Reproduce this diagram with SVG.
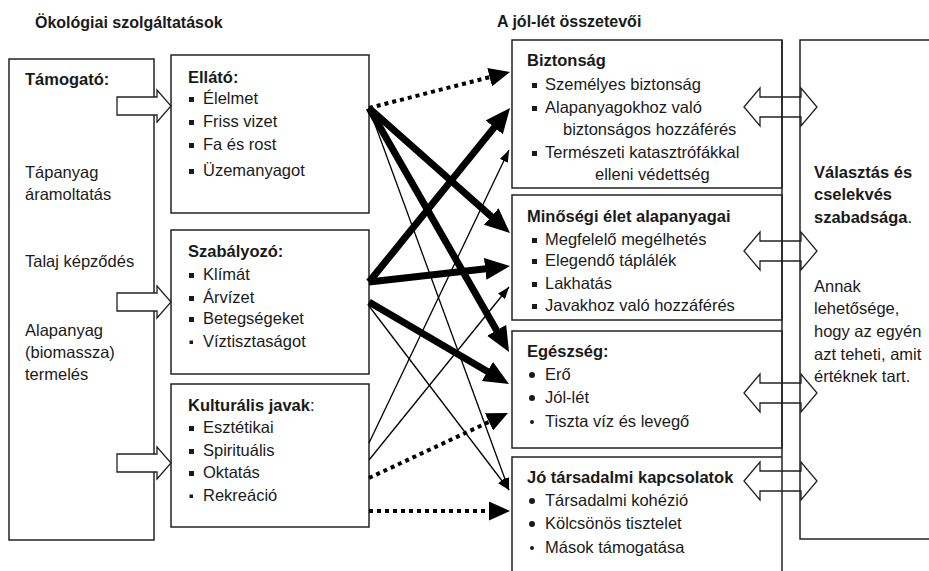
<svg xmlns="http://www.w3.org/2000/svg" width="929" height="571" viewBox="0 0 929 571">
<style>
.t{font-family:"Liberation Sans",Arial,sans-serif;font-size:16.5px;fill:#1a1a1a}
.h{font-family:"Liberation Sans",Arial,sans-serif;font-size:16px;font-weight:bold;fill:#1a1a1a}
.b{font-weight:bold}
.box{fill:none;stroke:#222;stroke-width:1.5}
.bl{fill:#1a1a1a}
.blk{fill:#fff;stroke:#222;stroke-width:1.3}
.dbl{fill:none;stroke:#222;stroke-width:1.3}
.thick{stroke:#000;stroke-width:7;fill:none}
.thin{stroke:#000;stroke-width:1.3;fill:none}
.dot{stroke:#000;stroke-width:4;stroke-dasharray:4 4;fill:none}
</style>
<defs>
<marker id="hT" markerUnits="userSpaceOnUse" viewBox="0 0 25 22" markerWidth="25" markerHeight="22" refX="1" refY="11" orient="auto"><path d="M0,0 L25,11 L0,22 Z" fill="#000"/></marker>
<marker id="hD" markerUnits="userSpaceOnUse" viewBox="0 0 21 19" markerWidth="21" markerHeight="19" refX="1" refY="9.5" orient="auto"><path d="M0,0 L21,9.5 L0,19 Z" fill="#000"/></marker>
<marker id="hS" markerUnits="userSpaceOnUse" viewBox="0 0 12 9" markerWidth="12" markerHeight="9" refX="12" refY="4.5" orient="auto"><path d="M0,0 L12,4.5 L0,9 Z" fill="#000"/></marker>
<clipPath id="clipSec"><rect x="512" y="40" width="270" height="144"/></clipPath>
</defs>

<g id="titles">
<text class="h" x="35" y="28">Ökológiai szolgáltatások</text>
<text class="h" x="497" y="27">A jól-lét összetevői</text>
</g>

<g id="support">
<rect class="box" x="9" y="59" width="145" height="481"/>
<text class="t b" x="25" y="85">Támogató:</text>
<text class="t" x="25" y="178">Tápanyag</text>
<text class="t" x="25" y="200">áramoltatás</text>
<text class="t" x="25" y="267">Talaj képződés</text>
<text class="t" x="25" y="336">Alapanyag</text>
<text class="t" x="25" y="358">(biomassza)</text>
<text class="t" x="25" y="380">termelés</text>
</g>

<g id="provisioning">
<rect class="box" x="171" y="55" width="198" height="158"/>
<text class="t b" x="188" y="83">Ellátó:</text>
<rect class="bl" x="189" y="97" width="5" height="5"/><text class="t" x="203" y="104">Élelmet</text>
<rect class="bl" x="189" y="120" width="5" height="5"/><text class="t" x="203" y="127">Friss vizet</text>
<rect class="bl" x="189" y="143" width="5" height="5"/><text class="t" x="203" y="150">Fa és rost</text>
<rect class="bl" x="189" y="169" width="5" height="5"/><text class="t" x="203" y="176">Üzemanyagot</text>
</g>

<g id="regulating">
<rect class="box" x="171" y="230" width="198" height="144"/>
<text class="t b" x="188" y="257">Szabályozó:</text>
<rect class="bl" x="189" y="273" width="5" height="5"/><text class="t" x="203" y="280">Klímát</text>
<rect class="bl" x="189" y="296" width="5" height="5"/><text class="t" x="203" y="303">Árvízet</text>
<rect class="bl" x="189" y="317" width="5" height="5"/><text class="t" x="203" y="324">Betegségeket</text>
<rect class="bl" x="189.5" y="340.5" width="3.5" height="3.5"/><text class="t" x="203" y="347">Víztisztaságot</text>
</g>

<g id="cultural">
<rect class="box" x="171" y="384" width="198" height="143"/>
<text class="t" x="188" y="411"><tspan class="b">Kulturális javak</tspan>:</text>
<rect class="bl" x="189" y="426" width="5" height="5"/><text class="t" x="203" y="433">Esztétikai</text>
<rect class="bl" x="189" y="449" width="5" height="5"/><text class="t" x="203" y="456">Spirituális</text>
<rect class="bl" x="189" y="471" width="5" height="5"/><text class="t" x="203" y="478">Oktatás</text>
<rect class="bl" x="189.5" y="494.5" width="3.5" height="3.5"/><text class="t" x="203" y="501">Rekreáció</text>
</g>

<g id="security">
<rect class="box" x="512" y="40" width="270" height="148"/>
<text class="t b" x="527" y="66">Biztonság</text>
<rect class="bl" x="532" y="83" width="5" height="5"/><text class="t" x="545" y="90">Személyes biztonság</text>
<rect class="bl" x="532" y="106" width="5" height="5"/><text class="t" x="545" y="113">Alapanyagokhoz való</text>
<text class="t" x="563" y="135">biztonságos hozzáférés</text>
<rect class="bl" x="532" y="151" width="5" height="5"/><text class="t" x="545" y="158">Természeti katasztrófákkal</text>
<text class="t" x="595" y="180" clip-path="url(#clipSec)">elleni védettség</text>
</g>

<g id="basic-material">
<rect class="box" x="512" y="195" width="270" height="125"/>
<text class="t b" x="527" y="222">Minőségi élet alapanyagai</text>
<rect class="bl" x="532" y="238" width="5" height="5"/><text class="t" x="545" y="245">Megfelelő megélhetés</text>
<rect class="bl" x="532" y="259" width="5" height="5"/><text class="t" x="545" y="266">Elegendő táplálék</text>
<rect class="bl" x="532" y="282" width="5" height="5"/><text class="t" x="545" y="289">Lakhatás</text>
<rect class="bl" x="532" y="304" width="5" height="5"/><text class="t" x="545" y="311">Javakhoz való hozzáférés</text>
</g>

<g id="health">
<rect class="box" x="512" y="331" width="270" height="117"/>
<text class="t b" x="527" y="357">Egészség:</text>
<circle class="bl" cx="532" cy="375" r="3"/><text class="t" x="545" y="380">Erő</text>
<circle class="bl" cx="532" cy="398" r="3"/><text class="t" x="545" y="403">Jól-lét</text>
<circle class="bl" cx="532" cy="422" r="2"/><text class="t" x="545" y="427">Tiszta víz és levegő</text>
</g>

<g id="social">
<path class="box" d="M512,571 V457 H782"/>
<text class="t b" x="527" y="483">Jó társadalmi kapcsolatok</text>
<circle class="bl" cx="532" cy="501" r="3"/><text class="t" x="545" y="506">Társadalmi kohézió</text>
<circle class="bl" cx="532" cy="524" r="3"/><text class="t" x="545" y="529">Kölcsönös tisztelet</text>
<circle class="bl" cx="532" cy="548" r="2"/><text class="t" x="545" y="553">Mások támogatása</text>
</g>

<g id="divider">
<line class="box" x1="782" y1="40" x2="782" y2="571"/>
</g>

<g id="freedom">
<path class="box" d="M930,40 H800 V539 H930"/>
<text class="t b" x="814" y="178">Választás és</text>
<text class="t b" x="814" y="200">cselekvés</text>
<text class="t" x="814" y="223"><tspan class="b">szabadsága</tspan>.</text>
<text class="t" x="814" y="292">Annak</text>
<text class="t" x="814" y="314">lehetősége,</text>
<text class="t" x="814" y="337">hogy az egyén</text>
<text class="t" x="814" y="360">azt teheti, amit</text>
<text class="t" x="814" y="382">értéknek tart.</text>
</g>

<g id="connectors">
<polygon class="blk" points="117,97 157,97 157,90 171,106 157,122 157,115 117,115"/>
<polygon class="blk" points="117,293 157,293 157,286 171,302 157,318 157,311 117,311"/>
<polygon class="blk" points="117,454 157,454 157,447 171,463 157,479 157,472 117,472"/>

<line class="dot" x1="369" y1="108" x2="490.6" y2="76.9" marker-end="url(#hD)"/>
<line class="thick" x1="369" y1="108" x2="492" y2="217.1" marker-end="url(#hT)"/>
<line class="thick" x1="369" y1="108" x2="497.1" y2="331.2" marker-end="url(#hT)"/>
<line class="thin" x1="369" y1="108" x2="509" y2="490" marker-end="url(#hS)"/>
<line class="thick" x1="369" y1="282" x2="494.9" y2="126.6" marker-end="url(#hT)"/>
<line class="thick" x1="369" y1="282" x2="486.2" y2="268.7" marker-end="url(#hT)"/>
<line class="thick" x1="369" y1="302" x2="488.3" y2="371.9" marker-end="url(#hT)"/>
<line class="thin" x1="369" y1="306" x2="509" y2="490" marker-end="url(#hS)"/>
<line class="thin" x1="369" y1="443" x2="509" y2="150" marker-end="url(#hS)"/>
<line class="thin" x1="369" y1="460" x2="509" y2="287" marker-end="url(#hS)"/>
<line class="dot" x1="369" y1="478" x2="489.9" y2="421.5" marker-end="url(#hD)"/>
<line class="dot" x1="369" y1="511" x2="490" y2="511" marker-end="url(#hD)"/>

<polygon class="dbl" points="744,107 760,88 760,97 801,97 801,88 817,107 801,126 801,117 760,117 760,126"/>
<polygon class="dbl" points="744,251 760,232 760,241 801,241 801,232 817,251 801,270 801,261 760,261 760,270"/>
<polygon class="dbl" points="744,393 760,374 760,383 801,383 801,374 817,393 801,412 801,403 760,403 760,412"/>
<polygon class="dbl" points="744,481 760,462 760,471 801,471 801,462 817,481 801,500 801,491 760,491 760,500"/>
</g>
</svg>
